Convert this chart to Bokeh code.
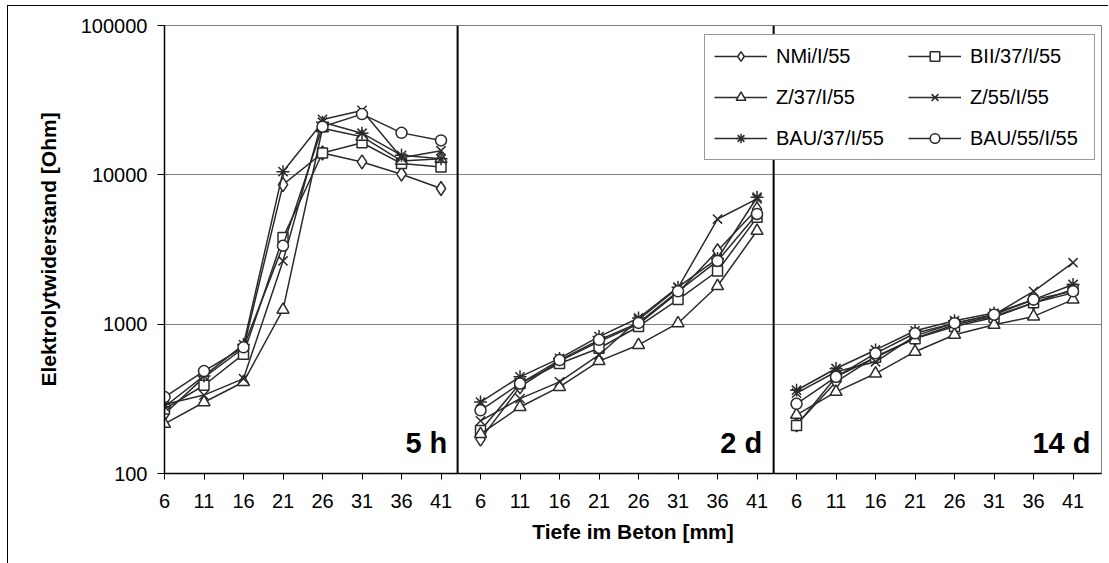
import numpy as np
from bokeh.plotting import figure
from bokeh.models import (FixedTicker, NumeralTickFormatter, Span, Label, Legend,
                          LegendItem, Range1d)
from bokeh.embed import file_html
from bokeh.resources import INLINE

# ---------------- data ----------------
depths = [6, 11, 16, 21, 26, 31, 36, 41]          # Tiefe im Beton [mm]
panels = ["5 h", "2 d", "14 d"]                    # measurement ages
series_names = ["NMi/I/55", "BII/37/I/55", "Z/37/I/55",
                "Z/55/I/55", "BAU/37/I/55", "BAU/55/I/55"]

# Elektrolytwiderstand [Ohm]; 8 depths for 5 h, then 2 d, then 14 d
nmi_i_55 = [250, 440, 690, 8600, 14000, 12200, 10100, 8100,
            170, 380, 565, 765, 1000, 1630, 3100, 5900,
            212, 411, 606, 805, 990, 1130, 1390, 1620]
bii_37_i_55 = [270, 390, 630, 3800, 14000, 16400, 11900, 11300,
               194, 400, 545, 690, 965, 1460, 2270, 5190,
               210, 444, 600, 800, 965, 1110, 1390, 1705]
z_37_i_55 = [215, 300, 410, 1250, 20500, 18000, 12400, 12800,
             184, 279, 380, 566, 726, 1015, 1800, 4220,
             247, 352, 467, 654, 849, 990, 1127, 1460]
z_55_i_55 = [290, 335, 432, 2650, 23500, 27000, 13000, 14500,
             225, 317, 411, 622, 1070, 1750, 5060, 6900,
             345, 480, 560, 835, 1016, 1157, 1660, 2580]
bau_37_i_55 = [280, 450, 730, 10500, 22500, 19000, 13500, 12800,
               301, 444, 590, 826, 1100, 1770, 2750, 7080,
               361, 505, 672, 903, 1055, 1186, 1460, 1845]
bau_55_i_55 = [325, 485, 700, 3350, 21000, 25500, 19100, 17000,
               265, 400, 575, 785, 1020, 1660, 2650, 5470,
               293, 444, 638, 869, 1016, 1157, 1460, 1660]

all_series = [nmi_i_55, bii_37_i_55, z_37_i_55, z_55_i_55, bau_37_i_55, bau_55_i_55]
markers = ["diamond", "square", "triangle", "x", "asterisk", "circle"]
msizes = [14, 10, 12, 13, 13, 11]

# ---------------- figure ----------------
FONT = "Liberation Sans"
n_cat = len(depths) * len(panels)
p = figure(width=1101, height=558, output_backend="svg", toolbar_location=None,
           y_axis_type="log",
           x_range=Range1d(0, 23.72), y_range=Range1d(100, 100000),
           min_border_left=156, min_border_right=8, min_border_top=19,
           min_border_bottom=91)
p.margin = (5, 0, 0, 7)
p.styles = {"border-left": "1px solid #000000", "border-top": "1px solid #000000"}
p.background_fill_color = "white"
p.border_fill_color = "white"
p.outline_line_color = "#808080"
p.outline_line_width = 1

# axes
xticks = list(range(n_cat))
p.xaxis.ticker = FixedTicker(ticks=xticks)
p.xaxis.major_label_overrides = {i: str(depths[i % len(depths)]) for i in xticks}
p.xaxis.minor_tick_line_color = None
p.xaxis.major_tick_in = 0
p.xaxis.major_tick_out = 6
p.xaxis.major_label_standoff = 14
p.xaxis.axis_label = "Tiefe im Beton [mm]"
p.xaxis.axis_label_standoff = 9

p.yaxis.ticker = FixedTicker(ticks=[100, 1000, 10000, 100000])
p.yaxis.formatter = NumeralTickFormatter(format="0")
p.yaxis.minor_tick_line_color = None
p.yaxis.major_tick_in = 0
p.yaxis.major_tick_out = 7
p.yaxis.major_label_standoff = 10
p.yaxis.axis_label = "Elektrolytwiderstand [Ohm]"
p.yaxis.axis_label_standoff = 18

for ax in (p.xaxis, p.yaxis):
    ax.axis_line_color = "black"
    ax.axis_line_width = 1.5
    ax.major_tick_line_color = "black"
    ax.major_label_text_font = FONT
    ax.major_label_text_font_size = "20px"
    ax.major_label_text_color = "black"
    ax.axis_label_text_font = FONT
    ax.axis_label_text_font_size = "21px"
    ax.axis_label_text_font_style = "bold"
    ax.axis_label_text_color = "black"

p.xgrid.grid_line_color = None
p.ygrid.grid_line_color = "#808080"
p.ygrid.grid_line_width = 1

# panel separators
for loc in (7.42, 15.42):
    p.add_layout(Span(location=loc, dimension="height", line_color="black", line_width=2))

# series
color = "#2b2b2b"
items = []
npan = len(depths)
for name, vals, mk, ms in zip(series_names, all_series, markers, msizes):
    rends = []
    for k in range(len(panels)):
        xs = list(range(k * npan, (k + 1) * npan))
        ys = vals[k * npan:(k + 1) * npan]
        r = p.line(xs, ys, line_color=color, line_width=1.5)
        rends.append(r)
    s = p.scatter(list(range(n_cat)), vals, marker=mk, size=ms,
                  line_color=color, line_width=1.5, fill_color="white")
    items.append(LegendItem(label=name, renderers=[rends[0], s]))

# panel labels
label_pos = [7.16, 15.13, 23.44]
for txt, xp in zip(panels, label_pos):
    p.add_layout(Label(x=xp, y=161, text=txt, text_align="right",
                       text_baseline="alphabetic", text_font=FONT,
                       text_font_size="29px", text_font_style="bold",
                       text_color="black"))

legend = Legend(items=items, location=(540, 313), orientation="horizontal", ncols=2,
                glyph_width=53, glyph_height=24, label_width=115, label_height=24,
                label_standoff=9, spacing=17, padding=9, margin=0,
                label_text_font=FONT, label_text_font_size="20px",
                label_text_color="black",
                border_line_color="#333333", border_line_width=1,
                background_fill_color="white", background_fill_alpha=1)
p.add_layout(legend)

open("out.html", "w").write(file_html(p, INLINE))
